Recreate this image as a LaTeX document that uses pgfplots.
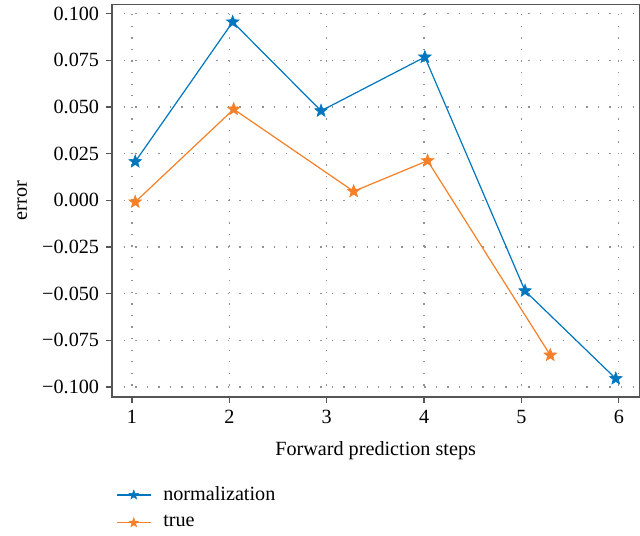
\documentclass[border=0pt]{standalone}
\usepackage{fontspec}
\setmainfont{Liberation Serif}
\usepackage{pgfplots}
\pgfplotsset{compat=1.18}
\definecolor{cblue}{RGB}{0,118,190}
\definecolor{corange}{RGB}{245,128,40}
\definecolor{axgray}{RGB}{85,85,85}
% filled five-pointed star
\pgfdeclareplotmark{fstar}{%
  \pgfpathmoveto{\pgfqpointpolar{90}{\pgfplotmarksize}}%
  \pgfpathlineto{\pgfqpointpolar{126}{0.42\pgfplotmarksize}}%
  \pgfpathlineto{\pgfqpointpolar{162}{\pgfplotmarksize}}%
  \pgfpathlineto{\pgfqpointpolar{198}{0.42\pgfplotmarksize}}%
  \pgfpathlineto{\pgfqpointpolar{234}{\pgfplotmarksize}}%
  \pgfpathlineto{\pgfqpointpolar{270}{0.42\pgfplotmarksize}}%
  \pgfpathlineto{\pgfqpointpolar{306}{\pgfplotmarksize}}%
  \pgfpathlineto{\pgfqpointpolar{342}{0.42\pgfplotmarksize}}%
  \pgfpathlineto{\pgfqpointpolar{18}{\pgfplotmarksize}}%
  \pgfpathlineto{\pgfqpointpolar{54}{0.42\pgfplotmarksize}}%
  \pgfpathclose
  \pgfusepathqfillstroke}
\begin{document}
\fontsize{15}{17}\selectfont
\begin{tikzpicture}
\begin{axis}[
  scale only axis, width=392pt, height=292pt,
  xmin=0.796, xmax=6.21, ymin=-0.1054, ymax=0.1049,
  xtick={1,2,3,4,5,6},
  xticklabels={1,2,3,4,5,6},
  ytick={-0.1,-0.075,-0.05,-0.025,0,0.025,0.05,0.075,0.1},
  yticklabels={−0.100,−0.075,−0.050,−0.025,0.000,0.025,0.050,0.075,0.100},
  tick label style={font=\fontsize{15}{17}\selectfont},
  tick align=outside, xtick pos=bottom, ytick pos=left,
  major tick length=4.5pt,
  tick style={axgray, line width=0.9pt},
  axis line style={axgray, line width=1.1pt},
  grid=major,
  grid style={gray!85, line width=1pt, dash pattern=on 1pt off 7.6pt},
  xlabel={Forward prediction steps}, ylabel={error},
  xlabel style={yshift=-3pt},
  ylabel style={inner ysep=13pt, yshift=-7pt},
  legend cell align=left,
  legend style={at={(0,-0.213)}, anchor=north west, draw=none, fill=none,
    row sep=5pt, font=\rmfamily\fontsize{15}{17}\selectfont,
    /tikz/every odd column/.append style={column sep=7pt}},
  legend image code/.code={\draw[#1] (0pt,0pt) -- (25pt,0pt);
    \draw[#1, only marks, mark size=3.6pt] plot coordinates {(12.5pt,0pt)};},
]
\addplot[cblue, line width=0.9pt, mark=fstar, mark size=5pt,
  mark options={line width=0.4pt}] coordinates {
(1.034,0.0207) (2.035,0.0955) (2.942,0.0479) (4.008,0.0767) (5.037,-0.0485) (5.969,-0.0955)};
\addplot[corange, line width=0.9pt, mark=fstar, mark size=5pt,
  mark options={line width=0.4pt}] coordinates {
(1.034,-0.0009) (2.045,0.0488) (3.277,0.0048) (4.036,0.0212) (5.296,-0.0829)};
\legend{normalization, true}
\end{axis}
\end{tikzpicture}
\end{document}
